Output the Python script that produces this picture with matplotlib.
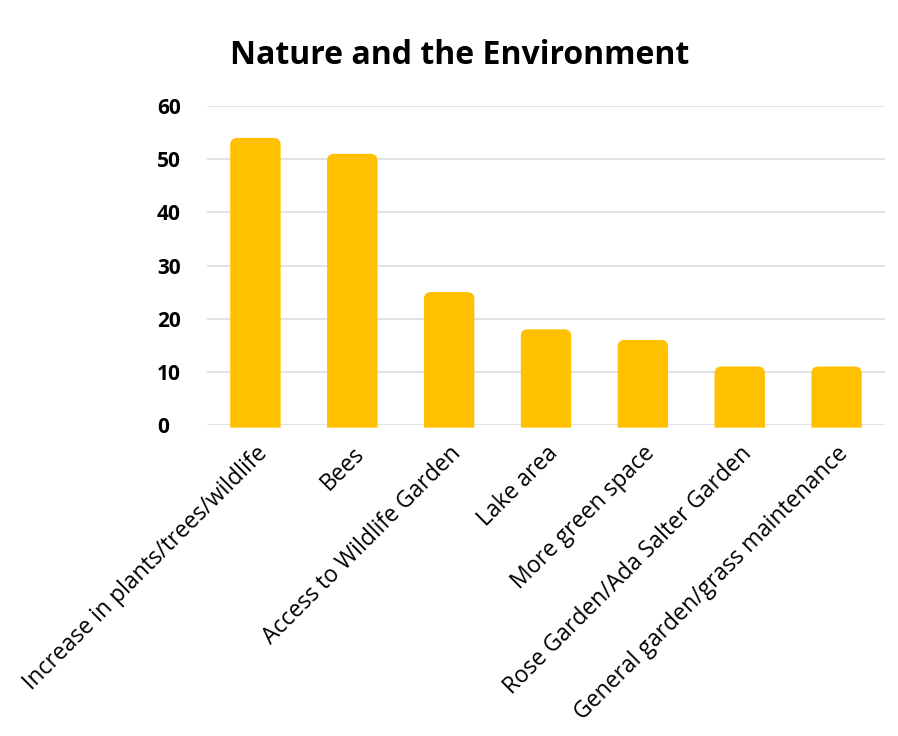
import matplotlib.pyplot as plt
from matplotlib.path import Path
from matplotlib.patches import PathPatch

categories = ["Increase in plants/trees/wildlife", "Bees", "Access to Wildlife Garden",
              "Lake area", "More green space", "Rose Garden/Ada Salter Garden",
              "General garden/grass maintenance"]
counts = [54, 51, 25, 18, 16, 11, 11]
yticks = [0, 10, 20, 30, 40, 50, 60]

plt.rcParams['font.family'] = ['Open Sans', 'DejaVu Sans']

fig = plt.figure(figsize=(8.98, 7.36), dpi=100)
ax = fig.add_axes([207 / 898, 1 - 425 / 736, 678 / 898, 319 / 736])

bars = ax.bar(range(len(categories)), counts, width=0.52, color="#FFC000")
ax.set_xlim(-0.5, len(categories) - 0.5)
ax.set_ylim(0, 60)

# rounded top corners (radius ~7 px)
fig.canvas.draw()
rx = 7 * (ax.get_xlim()[1] - ax.get_xlim()[0]) / ax.bbox.width
ry = 7 * (ax.get_ylim()[1] - ax.get_ylim()[0]) / ax.bbox.height
for b in bars:
    x0, w, h = b.get_x(), b.get_width(), b.get_height()
    y0 = -0.5
    verts = [(x0, y0), (x0, h - ry), (x0, h), (x0 + rx, h),
             (x0 + w - rx, h), (x0 + w, h), (x0 + w, h - ry),
             (x0 + w, y0), (x0, y0)]
    codes = [Path.MOVETO, Path.LINETO, Path.CURVE3, Path.CURVE3,
             Path.LINETO, Path.CURVE3, Path.CURVE3, Path.LINETO, Path.CLOSEPOLY]
    ax.add_patch(PathPatch(Path(verts, codes), facecolor="#FFC000", edgecolor="none",
                           zorder=3, clip_on=False))
    b.set_visible(False)

ax.set_yticks(yticks)
ax.set_yticklabels([str(t) for t in yticks], fontsize=15, fontweight="bold")
ax.set_xticks(range(len(categories)))
ax.set_xticklabels(categories, rotation=45, ha="right", rotation_mode="anchor",
                   fontsize=16.5)
ax.tick_params(axis="x", length=0, pad=12)
ax.tick_params(axis="y", length=0, pad=36)
for lab in ax.get_yticklabels():
    lab.set_horizontalalignment("left")
for lab in ax.get_xticklabels():
    lab.set_x(lab.get_position()[0] + 0.05)
ax.grid(axis="y", color="#DDDDDD", linewidth=1.2, zorder=0)
ax.set_axisbelow(True)
for s in ax.spines.values():
    s.set_visible(False)

fig.text(460 / 898, 1 - 55 / 736, "Nature and the Environment", ha="center", va="center",
         fontsize=23, fontweight="bold")

fig.savefig("out.png", dpi=100, facecolor="white")
